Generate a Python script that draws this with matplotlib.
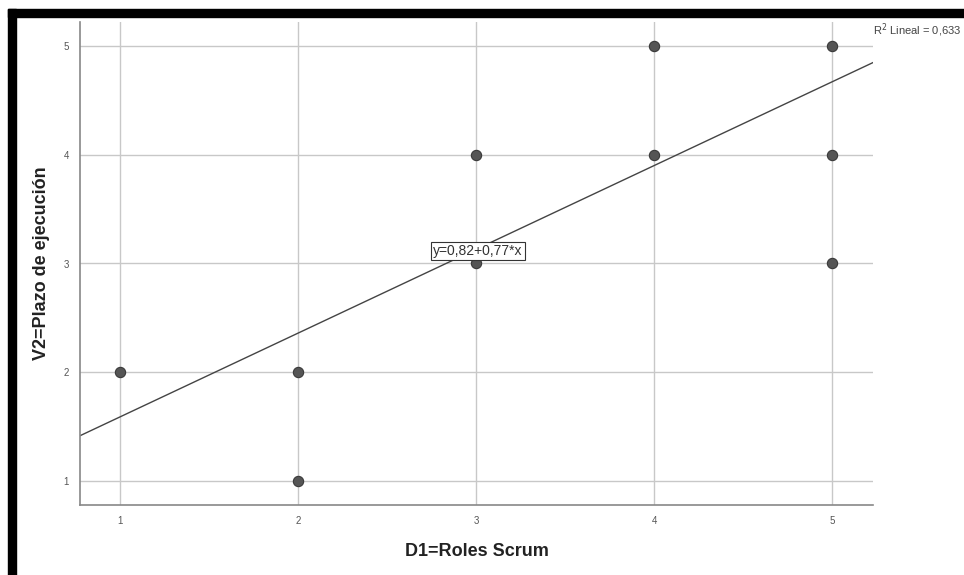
import matplotlib.pyplot as plt
from matplotlib.patches import Rectangle
import numpy as np

plt.rcParams["font.family"] = ["Liberation Sans", "DejaVu Sans"]

roles_scrum = [1, 2, 2, 3, 3, 4, 4, 5, 5, 5]
plazo_ejecucion = [2, 2, 1, 4, 3, 5, 4, 5, 4, 3]
intercept = 0.82
slope = 0.77
r2_text = "R$^2$ Lineal = 0,633"
fit_text = "y=0,82+0,77*x"
ticks = [1, 2, 3, 4, 5]

fig = plt.figure(figsize=(9.64, 5.75), dpi=100)

# black frame on top and left edges (cropped screenshot)
fig.patches.append(Rectangle((8 / 964, 1 - 17 / 575), 1, 8 / 575,
                             transform=fig.transFigure, color="black", zorder=0))
fig.patches.append(Rectangle((8 / 964, 0), 8 / 964, 1 - 9 / 575,
                             transform=fig.transFigure, color="black", zorder=0))

ax = fig.add_axes([80 / 964, 1 - 505 / 575, 793 / 964, 483 / 575])
xlim = (0.775, 5.23)
ylim = (0.78, 5.22)
ax.set_xlim(xlim)
ax.set_ylim(ylim)

ax.set_xticks(ticks)
ax.set_yticks(ticks)
ax.grid(True, color="#c8c8c8", linewidth=1)
ax.set_axisbelow(True)
ax.tick_params(length=0, labelsize=7, labelcolor="#555555", pad=8)

for side in ["top", "right"]:
    ax.spines[side].set_visible(False)
for side in ["left", "bottom"]:
    ax.spines[side].set_color("#888888")
    ax.spines[side].set_linewidth(1.2)

xs = np.array(xlim)
ax.plot(xs, intercept + slope * xs, color="#444444", linewidth=1, zorder=2)

ax.scatter(roles_scrum, plazo_ejecucion, s=55, color="#555555",
           edgecolors="#3a3a3a", linewidths=0.8, zorder=3)

ax.text(3.01, 3.115, fit_text, fontsize=10, color="#333333", ha="center", va="center",
        bbox=dict(boxstyle="square,pad=0.15", facecolor="white", edgecolor="#333333",
                  linewidth=0.8), zorder=4)

fig.text(873 / 964, 1 - 30 / 575, r2_text, fontsize=8, color="#444444",
         ha="left", va="center")

ax.set_xlabel("D1=Roles Scrum", fontsize=13, fontweight="bold", color="#222222",
              labelpad=12)
ax.set_ylabel("V2=Plazo de ejecución", fontsize=13, fontweight="bold", color="#222222",
              labelpad=10)

fig.savefig("out.png", dpi=100)
